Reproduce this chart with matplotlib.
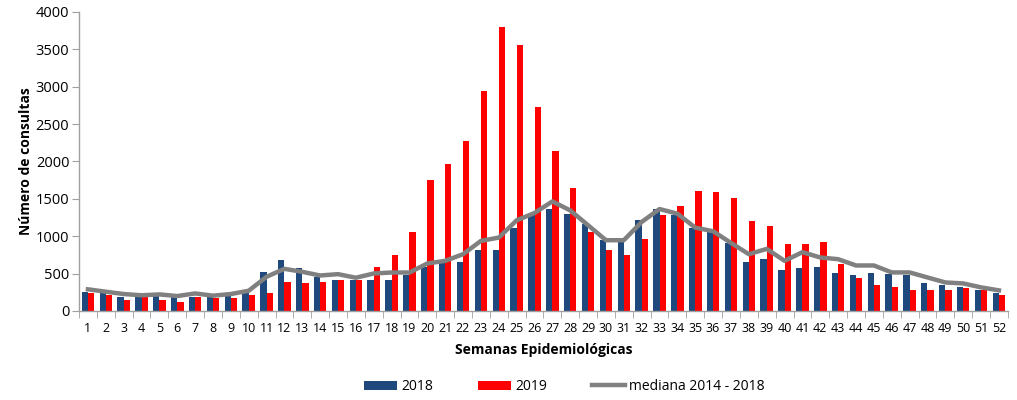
import matplotlib
matplotlib.use("Agg")
import matplotlib.pyplot as plt
import numpy as np

weeks = [str(i) for i in range(1, 53)]
v2018 = [250, 235, 190, 190, 235, 190, 190, 200, 235, 266, 520, 680, 569, 458, 413,
         413, 413, 413, 480, 591, 636, 658, 813, 813, 1115, 1280, 1364, 1298, 1160, 947,
         947, 1213, 1364, 1289, 1115, 1058, 911, 653, 698, 547, 569, 587, 502, 480, 502,
         498, 480, 369, 347, 324, 280, 236]
v2019 = [235, 213, 147, 190, 147, 124, 190, 169, 169, 213, 235, 387, 369, 387, 413,
         413, 591, 747, 1058, 1747, 1960, 2271, 2937, 3800, 3560, 2733, 2137, 1649, 1058, 813,
         747, 969, 1280, 1409, 1609, 1587, 1515, 1209, 1142, 898, 898, 920, 631, 436, 347,
         324, 280, 280, 280, 302, 280, 213]
mediana = [290, 258, 227, 210, 222, 200, 235, 205, 227, 271, 458, 564, 524, 475, 493,
           445, 502, 515, 515, 636, 671, 760, 938, 982, 1213, 1311, 1466, 1346, 1147, 947,
           947, 1191, 1364, 1302, 1115, 1067, 911, 760, 831, 671, 787, 716, 693, 609, 609,
           516, 516, 449, 382, 369, 316, 276]
yticks = [0, 500, 1000, 1500, 2000, 2500, 3000, 3500, 4000]

fig = plt.figure(figsize=(10.17, 4.0), dpi=100)
ax = fig.add_axes([0.0777, 0.2225, 0.9133, 0.7475])

x = np.arange(1, len(weeks) + 1)
w = 0.35
b1 = ax.bar(x - w / 2, v2018, width=w, color="#1F497D", label="2018")
b2 = ax.bar(x + w / 2, v2019, width=w, color="#FF0000", label="2019")
l1, = ax.plot(x, mediana, color="#808080", linewidth=3.2, label="mediana 2014 - 2018")

ax.set_xlim(0.5, len(weeks) + 0.5)
ax.set_ylim(0, 4000)
ax.set_yticks(yticks)
ax.set_yticklabels([str(t) for t in yticks], fontsize=10.5, family="Open Sans")
ax.set_xticks(x)
ax.set_xticklabels(weeks, fontsize=9, family="Open Sans")
ax.set_xticks(np.arange(0.5, len(weeks) + 1.0, 1.0), minor=True)
ax.tick_params(axis="x", which="major", length=0, pad=8)
ax.tick_params(axis="x", which="minor", length=5, color="#A0A0A0", direction="out")
ax.tick_params(axis="y", length=5, color="#A0A0A0", direction="out", pad=2)

for s in ["top", "right"]:
    ax.spines[s].set_visible(False)
for s in ["left", "bottom"]:
    ax.spines[s].set_color("#A0A0A0")
    ax.spines[s].set_linewidth(1.0)

ax.set_ylabel("Número de consultas", fontsize=10, fontweight="bold", family="Open Sans", labelpad=2)
ax.set_xlabel("Semanas Epidemiológicas", fontsize=10, fontweight="bold", family="Open Sans", labelpad=6)

fig.legend([b1, b2, l1], ["2018", "2019", "mediana 2014 - 2018"],
           loc="center", bbox_to_anchor=(0.555, 0.033), ncol=3, frameon=False,
           prop={"family": "Open Sans", "size": 10}, handlelength=2.4,
           columnspacing=3.2, handletextpad=0.3)

fig.savefig("out.png", dpi=100)
